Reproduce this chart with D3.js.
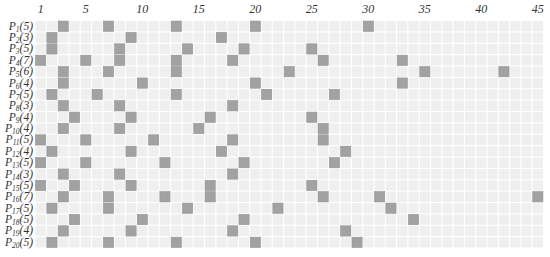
<!DOCTYPE html>
<html>
<head>
<meta charset="utf-8">
<script src="https://cdn.jsdelivr.net/npm/d3@7"></script>
<style>
  body { margin: 0; background: #fff; }
</style>
</head>
<body>
<div id="chart"></div>
<script>
// rows P1..P20, the number in brackets is the label count
var rowNames = d3.range(1, 21);
var rowCounts = [5, 3, 5, 7, 6, 4, 5, 3, 4, 4, 5, 4, 5, 3, 5, 7, 5, 5, 4, 5];
var columns = d3.range(1, 46);
var tickLabels = [1, 5, 10, 15, 20, 25, 30, 35, 40, 45];

// marked columns for each row
var marked = [
	[3, 7, 13, 20, 30],
	[2, 9, 17],
	[2, 8, 14, 19, 25],
	[1, 5, 8, 13, 18, 26, 33],
	[3, 7, 13, 23, 35, 42],
	[3, 10, 20, 33],
	[2, 6, 13, 21, 27],
	[3, 8, 18],
	[4, 9, 16, 25],
	[3, 8, 15, 26],
	[1, 5, 11, 18, 26],
	[2, 9, 17, 28],
	[1, 5, 12, 19, 27],
	[3, 8, 18],
	[1, 4, 9, 16, 25],
	[3, 7, 12, 16, 26, 31, 45],
	[2, 7, 14, 22, 32],
	[4, 10, 19, 34],
	[3, 9, 18, 28],
	[2, 7, 13, 20, 29]
];

var width = 550, height = 257;
var serif = "'Liberation Serif', 'Times New Roman', 'DejaVu Serif', serif";

var svg = d3.select("#chart").append("svg")
	.attr("width", width)
	.attr("height", height);

var x = d3.scaleBand().domain(columns).range([35, 543.5]).paddingInner(0.1).paddingOuter(0.05);
var y = d3.scaleBand().domain(rowNames).range([20.5, 248]).paddingInner(0.1).paddingOuter(0.05);

// background grid
var cells = [];
rowNames.forEach(function (r) {
	columns.forEach(function (c) {
		cells.push({ r: r, c: c });
	});
});

svg.append("g").attr("class", "grid")
	.selectAll("rect")
	.data(cells)
	.enter().append("rect")
	.attr("x", function (d) { return x(d.c); })
	.attr("y", function (d) { return y(d.r); })
	.attr("width", x.bandwidth())
	.attr("height", y.bandwidth())
	.attr("fill", "#efefef");

// marked cells
var marks = [];
marked.forEach(function (cols, i) {
	cols.forEach(function (c) {
		marks.push({ r: rowNames[i], c: c });
	});
});

svg.append("g").attr("class", "marks")
	.selectAll("rect")
	.data(marks)
	.enter().append("rect")
	.attr("x", function (d) { return x(d.c); })
	.attr("y", function (d) { return y(d.r); })
	.attr("width", x.bandwidth())
	.attr("height", y.bandwidth())
	.attr("fill", "#a2a2a2")
	.attr("stroke", "#939393")
	.attr("stroke-width", 0.6);

// column labels
svg.append("g").attr("class", "cols")
	.selectAll("text")
	.data(tickLabels)
	.enter().append("text")
	.attr("x", function (d) { return x(d) + x.bandwidth() / 2; })
	.attr("y", 13)
	.attr("text-anchor", "middle")
	.attr("font-family", serif)
	.attr("font-style", "italic")
	.attr("font-size", 12)
	.attr("fill", "#333")
	.text(function (d) { return d; });

// row labels: P with subscript index and count
var labels = svg.append("g").attr("class", "rows")
	.selectAll("text")
	.data(rowNames)
	.enter().append("text")
	.attr("x", 33)
	.attr("y", function (d) { return y(d) + y.bandwidth() / 2 + 3.5; })
	.attr("text-anchor", "end")
	.attr("font-family", serif)
	.attr("font-style", "italic")
	.attr("font-size", 11.5)
	.attr("fill", "#333");

labels.append("tspan").text("P");
labels.append("tspan")
	.attr("dy", 2)
	.attr("font-size", 7.5)
	.text(function (d) { return d; });
labels.append("tspan")
	.attr("dy", -2)
	.text(function (d, i) { return "(" + rowCounts[i] + ")"; });
</script>
</body>
</html>
